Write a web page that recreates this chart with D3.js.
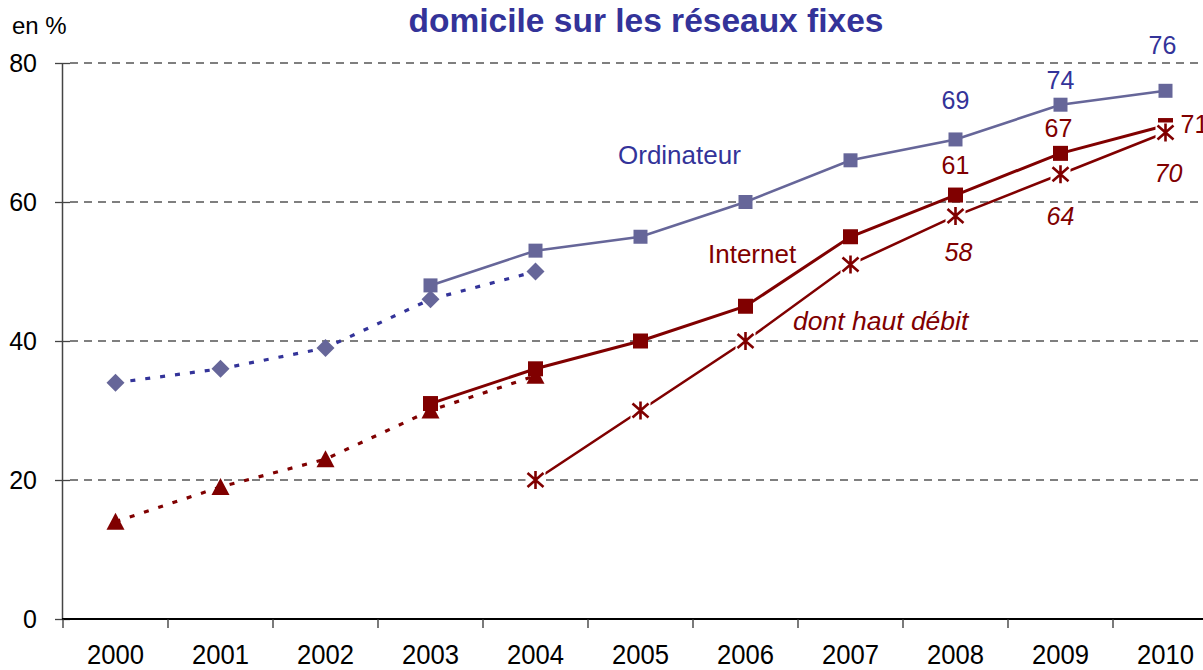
<!DOCTYPE html>
<html><head><meta charset="utf-8">
<script src="https://cdn.jsdelivr.net/npm/d3@7"></script>
<style>body{margin:0;background:#fff}svg{display:block;font-family:"Liberation Sans",Arial,sans-serif}</style>
</head><body><svg id="c" width="1203" height="670"></svg>
<script>
const years = ["2000","2001","2002","2003","2004","2005","2006","2007","2008","2009","2010"];
const yTicks = [0,20,40,60,80];
const ordiOld = [["2000",34],["2001",36],["2002",39],["2003",46],["2004",50]];
const ordiNew = [["2003",48],["2004",53],["2005",55],["2006",60],["2007",66],["2008",69],["2009",74],["2010",76]];
const netOld = [["2000",14],["2001",19],["2002",23],["2003",30],["2004",35]];
const netNew = [["2003",31],["2004",36],["2005",40],["2006",45],["2007",55],["2008",61],["2009",67],["2010",71]];
const hautDebit = [["2004",20],["2005",30],["2006",40],["2007",51],["2008",58],["2009",64],["2010",70]];
const ordiLabels = [["2008",69],["2009",74],["2010",76]];
const netLabels = [["2008",61],["2009",67],["2010",71]];
const hdLabels = [["2008",58],["2009",64],["2010",70]];

const svg = d3.select("#c");
const x = d3.scaleBand().domain(years).range([63,1218]).padding(0);
const y = d3.scaleLinear().domain([0,80]).range([619,63]);
const cx = d => x(d[0]) + x.bandwidth()/2;
const cy = d => y(d[1]);

const BLUE="#666699", DBLUE="#333399", RED="#800000";

// title
svg.append("text").attr("x",646).attr("y",32).attr("text-anchor","middle")
  .attr("font-size",33.5).attr("font-weight","bold").attr("fill",DBLUE)
  .text("domicile sur les réseaux fixes");
svg.append("text").attr("x",12).attr("y",34).attr("font-size",24).attr("fill","#000").text("en %");

// gridlines
svg.append("g").selectAll("line").data(yTicks.filter(v=>v>0)).join("line")
  .attr("x1",70).attr("x2",1203).attr("y1",d=>y(d)).attr("y2",d=>y(d))
  .attr("stroke","#555").attr("stroke-width",1.3).attr("stroke-dasharray","8,6");

// y axis
const ya = svg.append("g").attr("transform","translate(62,0)")
  .call(d3.axisLeft(y).tickValues(yTicks).tickSize(7).tickSizeOuter(0).tickPadding(18));
ya.select(".domain").attr("stroke","#444").attr("stroke-width",1.5);
ya.selectAll(".tick line").attr("x1",8).attr("stroke","#444").attr("stroke-width",1.3);
ya.selectAll(".tick text").attr("font-size",25).attr("fill","#000").attr("font-family","Liberation Sans, Arial");

// x axis
const xa = svg.append("g").attr("transform","translate(0,619)")
  .call(d3.axisBottom(x).tickSize(0).tickPadding(26));
xa.select(".domain").remove();
xa.selectAll(".tick text").attr("font-size",27).attr("fill","#000").attr("font-family","Liberation Sans, Arial")
  .attr("textLength",57).attr("lengthAdjust","spacingAndGlyphs");
svg.append("line").attr("x1",62).attr("x2",1203).attr("y1",619).attr("y2",619).attr("stroke","#000").attr("stroke-width",2);
svg.append("g").selectAll("line").data(years).join("line")
  .attr("x1",d=>x(d)).attr("x2",d=>x(d)).attr("y1",619).attr("y2",628)
  .attr("stroke","#333").attr("stroke-width",1.3);

const line = d3.line().x(cx).y(cy);

// dotted old series
svg.append("path").datum(ordiOld).attr("d",line).attr("fill","none").attr("stroke",DBLUE)
  .attr("stroke-width",3.2).attr("stroke-dasharray","5,10");
svg.append("path").datum(netOld).attr("d",line).attr("fill","none").attr("stroke",RED)
  .attr("stroke-width",3.2).attr("stroke-dasharray","5,10");

// diamonds
svg.append("g").selectAll("path").data(ordiOld).join("path")
  .attr("d",d=>{const X=cx(d),Y=cy(d);return `M${X},${Y-9}L${X+9},${Y}L${X},${Y+9}L${X-9},${Y}Z`;})
  .attr("fill",BLUE);
// triangles
svg.append("g").selectAll("path").data(netOld).join("path")
  .attr("d",d=>{const X=cx(d),Y=cy(d);return `M${X},${Y-9}L${X+9},${Y+8}L${X-9},${Y+8}Z`;})
  .attr("fill",RED);

// solid series
svg.append("path").datum(ordiNew).attr("d",line).attr("fill","none").attr("stroke",BLUE).attr("stroke-width",2.6);
svg.append("g").selectAll("rect").data(ordiNew).join("rect")
  .attr("x",d=>cx(d)-7).attr("y",d=>cy(d)-7).attr("width",14).attr("height",14).attr("fill",BLUE);

svg.append("path").datum(netNew).attr("d",line).attr("fill","none").attr("stroke",RED).attr("stroke-width",3);
svg.append("g").selectAll("rect").data(netNew).join("rect")
  .attr("x",d=>cx(d)-7.5).attr("y",d=>cy(d)-7.5).attr("width",15).attr("height",15).attr("fill",RED);

svg.append("path").datum(hautDebit).attr("d",line).attr("fill","none").attr("stroke",RED).attr("stroke-width",2.6);
const ast = svg.append("g").selectAll("g").data(hautDebit).join("g")
  .attr("transform",d=>`translate(${cx(d)},${cy(d)})`);
ast.append("rect").attr("x",-10).attr("y",-10).attr("width",20).attr("height",20).attr("fill","#fff");
ast.append("path").attr("d","M0,-9V9M-8,-7L8,7M8,-7L-8,7").attr("stroke",RED).attr("stroke-width",2.6).attr("fill","none");

// series labels
svg.append("text").attr("x",618).attr("y",164).attr("font-size",26).attr("fill",DBLUE).text("Ordinateur");
svg.append("text").attr("x",708).attr("y",263).attr("font-size",26).attr("fill",RED).text("Internet");
svg.append("text").attr("x",793).attr("y",330).attr("font-size",26.5).attr("font-style","italic").attr("fill",RED).text("dont haut débit");

// value labels (offsets relative to point)
const ordiOff = [[0,-30],[0,-16],[-3,-37]];
const netOff = [[0,-21],[-2,-16],[15,7]];
const hdOff = [[3,45],[0,51],[3,49]];
svg.append("g").selectAll("text").data(ordiLabels).join("text")
  .attr("x",(d,i)=>cx(d)+ordiOff[i][0]).attr("y",(d,i)=>cy(d)+ordiOff[i][1])
  .attr("text-anchor","middle").attr("font-size",25).attr("fill",DBLUE).text(d=>d[1]);
svg.append("g").selectAll("text").data(netLabels).join("text")
  .attr("x",(d,i)=>cx(d)+netOff[i][0]).attr("y",(d,i)=>cy(d)+netOff[i][1])
  .attr("text-anchor",(d,i)=>i===2?"start":"middle").attr("font-size",25).attr("fill",RED).text(d=>d[1]);
svg.append("g").selectAll("text").data(hdLabels).join("text")
  .attr("x",(d,i)=>cx(d)+hdOff[i][0]).attr("y",(d,i)=>cy(d)+hdOff[i][1])
  .attr("text-anchor","middle").attr("font-size",25).attr("font-style","italic").attr("fill",RED).text(d=>d[1]);
</script></body></html>
